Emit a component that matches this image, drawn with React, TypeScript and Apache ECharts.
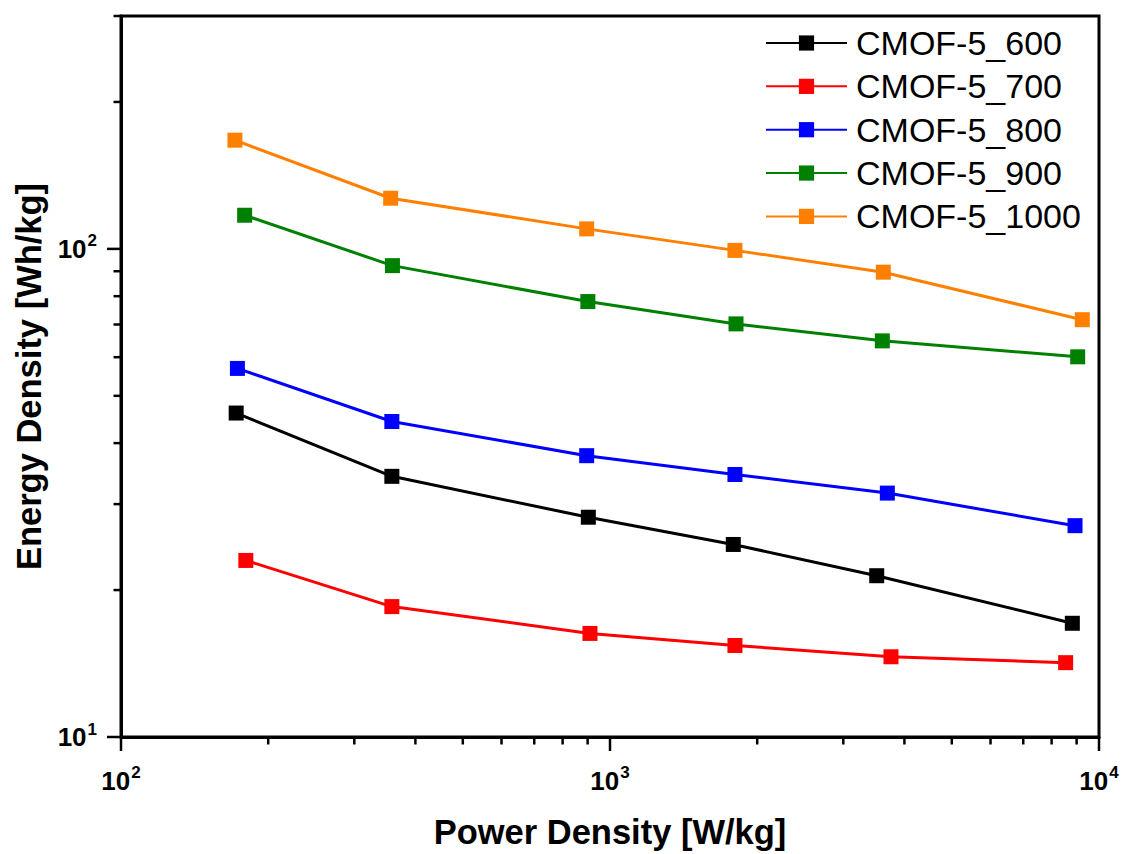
import React, { useEffect, useRef } from "react";
import * as echarts from "echarts";

const seriesNames = ["CMOF-5_600", "CMOF-5_700", "CMOF-5_800", "CMOF-5_900", "CMOF-5_1000"];
const seriesColors = ["#000000", "#ff0000", "#0000ff", "#008000", "#ff8000"];

const power600 = [172, 358, 903, 1787, 3511, 8820];
const energy600 = [46.1, 34.2, 28.2, 24.8, 21.4, 17.1];

const power700 = [180, 358, 910, 1801, 3755, 8547];
const energy700 = [23.0, 18.5, 16.3, 15.4, 14.6, 14.2];

const power800 = [173, 358, 896, 1801, 3691, 8932];
const energy800 = [56.9, 44.3, 37.7, 34.5, 31.6, 27.1];

const power900 = [179, 359, 901, 1810, 3605, 9045];
const energy900 = [117.2, 92.4, 78.0, 70.2, 64.8, 60.1];

const power1000 = [171, 356, 896, 1801, 3622, 9243];
const energy1000 = [167, 127, 109.9, 99.3, 89.6, 71.6];

const xTicks = [100, 200, 300, 400, 500, 600, 700, 800, 900, 1000, 2000, 3000, 4000, 5000, 6000, 7000, 8000, 9000, 10000];
const xMajorTicks = [100, 1000, 10000];
const yTicks = [10, 20, 30, 40, 50, 60, 70, 80, 90, 100, 200, 300];
const yMajorTicks = [10, 100];

const xMin = 100;
const xMax = 10000;
const yMin = 10;
const yMax = 300;

const FONT = "'Liberation Sans', Arial, Helvetica, sans-serif";

function pairs(xs: number[], ys: number[]) {
  return xs.map((x, i) => [x, ys[i]]);
}

function powLabel(v: number) {
  const e = Math.log10(v);
  const r = Math.round(e);
  if (Math.abs(e - r) > 1e-6) return "";
  return "{b|10}{s|" + r + "}";
}

export default function App() {
  const ref = useRef<HTMLDivElement>(null);
  useEffect(() => {
    if (!ref.current) return;
    const chart = echarts.init(ref.current, undefined, { renderer: "svg" });
    const allData = [
      pairs(power600, energy600),
      pairs(power700, energy700),
      pairs(power800, energy800),
      pairs(power900, energy900),
      pairs(power1000, energy1000),
    ];
    const tickData: number[][] = [];
    xTicks.forEach((v) => tickData.push([v, yMin, 0, xMajorTicks.includes(v) ? 1 : 0]));
    yTicks.forEach((v) => tickData.push([xMin, v, 1, yMajorTicks.includes(v) ? 1 : 0]));

    const rich = {
      b: { fontSize: 26, fontWeight: "bold", fontFamily: FONT, color: "#000" },
      s: { fontSize: 17, fontWeight: "bold", fontFamily: FONT, color: "#000", padding: [0, 0, 16, 1] },
    };

    chart.setOption({
      animation: false,
      backgroundColor: "#ffffff",
      textStyle: { fontFamily: FONT },
      grid: {
        left: 121,
        right: 24,
        top: 16,
        bottom: 117,
        show: true,
        borderColor: "#000",
        borderWidth: 3,
        backgroundColor: "transparent",
        containLabel: false,
        outerBoundsMode: "none",
      },
      legend: {
        data: seriesNames,
        orient: "vertical",
        left: 765,
        top: 26,
        padding: 0,
        itemWidth: 81,
        itemHeight: 19,
        itemGap: 9.35,
        textStyle: {
          fontSize: 34,
          fontFamily: FONT,
          color: "#000",
          lineHeight: 34,
          padding: [0, 0, 0, 4],
        },
      },
      xAxis: {
        type: "log",
        logBase: 10,
        min: xMin,
        max: xMax,
        name: "Power Density [W/kg]",
        nameLocation: "middle",
        nameGap: 77,
        nameTextStyle: { fontSize: 34.5, fontWeight: "bold", color: "#000", fontFamily: FONT },
        axisLine: { show: true, lineStyle: { color: "#000", width: 3 } },
        axisTick: { show: false },
        splitLine: { show: false },
        minorTick: { show: false },
        axisLabel: { margin: 27, formatter: powLabel, rich },
      },
      yAxis: {
        type: "log",
        logBase: 10,
        min: yMin,
        max: yMax,
        name: "Energy Density [Wh/kg]",
        nameLocation: "middle",
        nameGap: 74,
        nameTextStyle: { fontSize: 34.5, fontWeight: "bold", color: "#000", fontFamily: FONT },
        axisLine: { show: true, lineStyle: { color: "#000", width: 3 } },
        axisTick: { show: false },
        splitLine: { show: false },
        minorTick: { show: false },
        axisLabel: { margin: 24, formatter: powLabel, rich },
      },
      series: [
        ...seriesNames.map((name, i) => ({
          name,
          type: "line",
          data: allData[i],
          symbol: "rect",
          symbolSize: 15,
          color: seriesColors[i],
          lineStyle: { width: 3, color: seriesColors[i] },
          itemStyle: { color: seriesColors[i] },
          z: 3,
        })),
        {
          name: "ticks",
          type: "custom",
          silent: true,
          clip: false,
          z: 5,
          data: tickData,
          renderItem: (params: any, api: any) => {
            const p = api.coord([api.value(0), api.value(1)]);
            const isY = api.value(2) === 1;
            const len = api.value(3) === 1 ? 14 : 7.5;
            const shape = isY
              ? { x1: p[0] - len, y1: p[1], x2: p[0], y2: p[1] }
              : { x1: p[0], y1: p[1], x2: p[0], y2: p[1] + len };
            return {
              type: "line",
              shape,
              style: { stroke: "#000", lineWidth: 2.5 },
            };
          },
        },
      ],
    });
    return () => chart.dispose();
  }, []);
  return (
    <div
      ref={ref}
      style={{ position: "fixed", left: 0, top: 0, width: 1123, height: 854, background: "#fff" }}
    />
  );
}
